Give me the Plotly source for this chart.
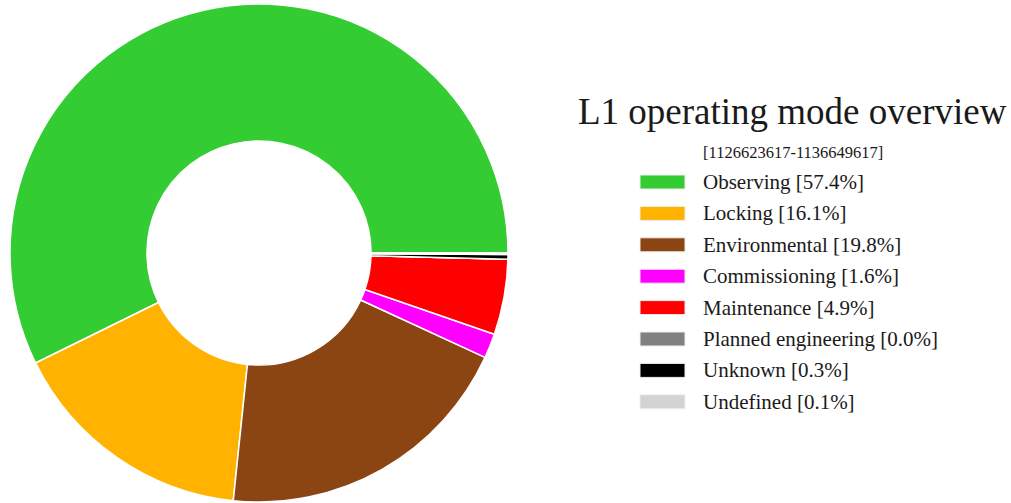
import plotly.graph_objects as go

# operating mode breakdown
modes = ["Observing", "Locking", "Environmental", "Commissioning", "Maintenance",
         "Planned engineering", "Unknown", "Undefined"]
percent = [57.4, 16.1, 19.8, 1.6, 4.9, 0.0, 0.3, 0.1]
colors = ["#33cc33", "#ffb200", "#8b4513", "#ff00ff", "#ff0000",
          "#808080", "#000000", "#d3d3d3"]
title = "L1 operating mode overview"
gps_span = "[1126623617-1136649617]"

W, H = 1011, 503
font = "Liberation Serif"


def px(x, y):
    return x / W, 1 - y / H


# plotly's ccw mode lays the first slice clockwise of the rotation point,
# so put that point where Observing should end (first slice starts at 3 o'clock going ccw)
rot = 90 - 360 * percent[0] / sum(percent)

fig = go.Figure(go.Pie(
    labels=modes, values=percent, sort=False,
    direction="counterclockwise", rotation=rot, hole=0.45,
    marker=dict(colors=colors, line=dict(color="white", width=1.5)),
    textinfo="none", hoverinfo="label+percent", showlegend=False,
    domain=dict(x=[10 / W, 508 / W], y=[0, 500 / H]),
))

# legend drawn by hand: wide colour patches with labels
row0, step = 182, 31.4
tx, ty = px(792, 111)
sx, sy = px(793, 152)
annotations = [
    dict(text=title, x=tx, y=ty, xref="paper", yref="paper", xanchor="center", yanchor="middle",
         showarrow=False, font=dict(family=font, size=37, color="#1a1a1a")),
    dict(text=gps_span, x=sx, y=sy, xref="paper", yref="paper", xanchor="center", yanchor="middle",
         showarrow=False, font=dict(family=font, size=16.5, color="#1a1a1a")),
]
shapes = []
for i, (m, p, c) in enumerate(zip(modes, percent, colors)):
    yc = row0 + i * step
    x0, y0 = px(640, yc + 7)
    x1, y1 = px(685, yc - 7)
    shapes.append(dict(type="rect", xref="paper", yref="paper", x0=x0, x1=x1, y0=y0, y1=y1,
                       fillcolor=c, line=dict(color="#eeeeee", width=1)))
    lx, ly = px(701, yc)
    annotations.append(dict(text=f"{m} [{p:.1f}%]", x=lx, y=ly,
                            xref="paper", yref="paper", xanchor="left", yanchor="middle",
                            showarrow=False, font=dict(family=font, size=21, color="#1a1a1a")))

fig.update_layout(width=W, height=H, margin=dict(l=0, r=0, t=0, b=0),
                  paper_bgcolor="white", plot_bgcolor="white",
                  annotations=annotations, shapes=shapes)

fig.write_html("out.html", config={"displayModeBar": False},
               post_script="document.body.style.margin='0';")
